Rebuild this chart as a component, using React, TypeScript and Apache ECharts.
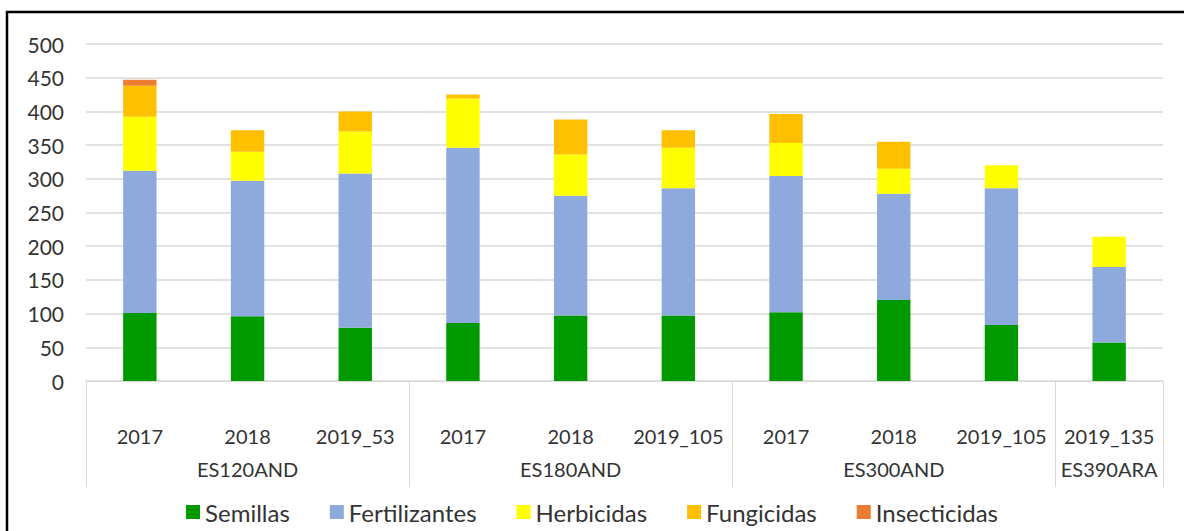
import React, { useEffect, useRef } from "react";
import * as echarts from "echarts";

const years = ["2017", "2018", "2019_53", "2017", "2018", "2019_105", "2017", "2018", "2019_105", "2019_135"];
const groups = ["ES120AND", "ES180AND", "ES300AND", "ES390ARA"];
const groupSizes = [3, 3, 3, 1];

const semillas = [101, 96, 79, 86, 97, 97, 102, 120, 83, 57];
const fertilizantes = [211, 201, 229, 260, 178, 189, 202, 158, 203, 112];
const herbicidas = [80, 43, 62, 73, 61, 60, 49, 37, 34, 45];
const fungicidas = [46, 32, 30, 6, 52, 26, 43, 40, 0, 0];
const insecticidas = [9, 0, 0, 0, 0, 0, 0, 0, 0, 0];

const yMax = 500;
const yInterval = 50;

const seriesDefs = [
  { name: "Semillas", data: semillas, color: "#009A00" },
  { name: "Fertilizantes", data: fertilizantes, color: "#8EA9DB" },
  { name: "Herbicidas", data: herbicidas, color: "#FFFF00" },
  { name: "Fungicidas", data: fungicidas, color: "#FFC000" },
  { name: "Insecticidas", data: insecticidas, color: "#ED7D31" },
];

const FONT = "Lato";
const TXT = "#333333";
const GRID = "#d9d9d9";

export default function App() {
  const ref = useRef<HTMLDivElement>(null);
  useEffect(() => {
    if (!ref.current) return;
    const chart = echarts.init(ref.current, null, { renderer: "svg" });

    const groupLabels: string[] = years.map(() => "");
    const boundaries = new Set<number>();
    let start = 0;
    groups.forEach((g, i) => {
      boundaries.add(start);
      groupLabels[start + Math.floor((groupSizes[i] - 1) / 2)] = g;
      start += groupSizes[i];
    });

    chart.setOption({
      animation: false,
      backgroundColor: "#ffffff",
      textStyle: { fontFamily: FONT },
      grid: { left: 86, right: 21, top: 44, bottom: 150, containLabel: false },
      legend: {
        top: 495,
        left: "center",
        icon: "rect",
        itemWidth: 14,
        itemHeight: 14,
        itemGap: 40,
        textStyle: { fontFamily: FONT, fontSize: 24, color: TXT },
        data: seriesDefs.map((s) => s.name),
      },
      xAxis: [
        {
          type: "category",
          data: years,
          position: "bottom",
          axisLine: { show: true, lineStyle: { color: GRID, width: 1 } },
          axisTick: {
            show: true,
            interval: (idx: number) => boundaries.has(idx),
            length: 106,
            lineStyle: { color: GRID, width: 1 },
          },
          axisLabel: { interval: 0, fontSize: 20, color: TXT, fontFamily: FONT, margin: 45 },
        },
        {
          type: "category",
          data: groupLabels,
          position: "bottom",
          offset: 33,
          axisLine: { show: false },
          axisTick: { show: false },
          axisLabel: { interval: 0, fontSize: 20, color: TXT, fontFamily: FONT, margin: 45 },
        },
      ],
      yAxis: {
        type: "value",
        min: 0,
        max: yMax,
        interval: yInterval,
        axisLine: { show: false },
        axisTick: { show: false },
        axisLabel: { fontSize: 21, color: TXT, fontFamily: FONT, margin: 22 },
        splitLine: { lineStyle: { color: GRID, width: 1.5 } },
      },
      graphic: [
        {
          type: "rect",
          shape: { x: 7, y: 12, width: 1200, height: 540 },
          style: { fill: "none", stroke: "#000000", lineWidth: 2.5 },
          silent: true,
        },
      ],
      series: seriesDefs.map((s) => ({
        name: s.name,
        type: "bar",
        stack: "total",
        xAxisIndex: 0,
        barWidth: "31%",
        data: s.data,
        itemStyle: { color: s.color },
      })),
    });
    return () => chart.dispose();
  }, []);
  return (
    <div
      ref={ref}
      style={{ position: "fixed", left: 0, top: 0, width: 1184, height: 531, background: "#fff" }}
    />
  );
}
